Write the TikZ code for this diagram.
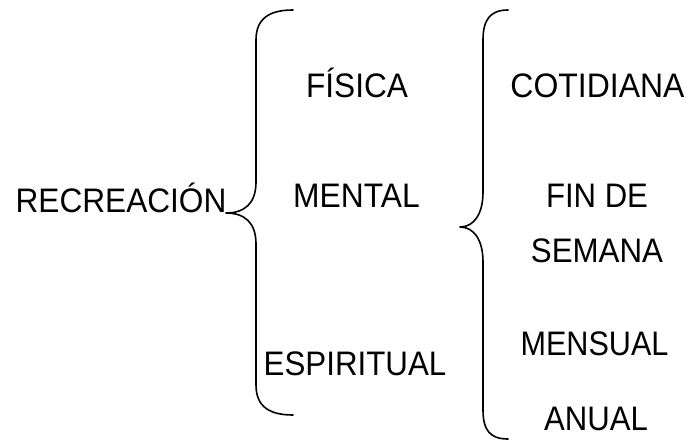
\documentclass[tikz,border=0pt]{standalone}
\usepackage{fontspec}
\setmainfont{Liberation Sans}
\newcommand\hsq[2]{\scalebox{#1}[1]{#2}}
\begin{document}
\begin{tikzpicture}[x=1pt,y=1pt,
  lbl/.style={font=\fontsize{34}{40}\selectfont, inner sep=0pt, anchor=base},
  brace/.style={line width=1.6pt, line cap=round, line join=round}]
\useasboundingbox (0,0) rectangle (688,-442);
% texts
\node[lbl] (rec) at (121,-212) {\hsq{0.93}{RECREACIÓN}};
\node[lbl] (fis) at (357,-97) {\hsq{0.93}{FÍSICA}};
\node[lbl] (men) at (356.5,-207) {\hsq{0.935}{MENTAL}};
\node[lbl] (esp) at (355,-375) {\hsq{0.92}{ESPIRITUAL}};
\node[lbl] (cot) at (597.5,-97) {\hsq{0.94}{COTIDIANA}};
\node[lbl] (fin) at (597,-207) {\hsq{0.915}{FIN DE}};
\node[lbl] (sem) at (597,-262) {\hsq{0.92}{SEMANA}};
\node[lbl] (mes) at (594.5,-355) {\hsq{0.9}{MENSUAL}};
\node[lbl] (anu) at (596,-430) {\hsq{0.915}{ANUAL}};
% brace 1
\draw[brace] (293,-10) .. controls (270,-10) and (256,-18) .. (256,-40)
  -- (256,-182) .. controls (256,-204) and (244,-213) .. (226,-213)
  .. controls (244,-213) and (256,-222) .. (256,-244)
  -- (256,-385) .. controls (256,-407) and (270,-415) .. (293,-415);
% brace 2
\draw[brace] (508,-10) .. controls (490,-10) and (483,-20) .. (483,-40)
  -- (483,-192) .. controls (483,-214) and (474,-227) .. (460,-227)
  .. controls (474,-227) and (483,-240) .. (483,-262)
  -- (483,-410) .. controls (483,-430) and (490,-439) .. (508,-439);
\end{tikzpicture}
\end{document}
